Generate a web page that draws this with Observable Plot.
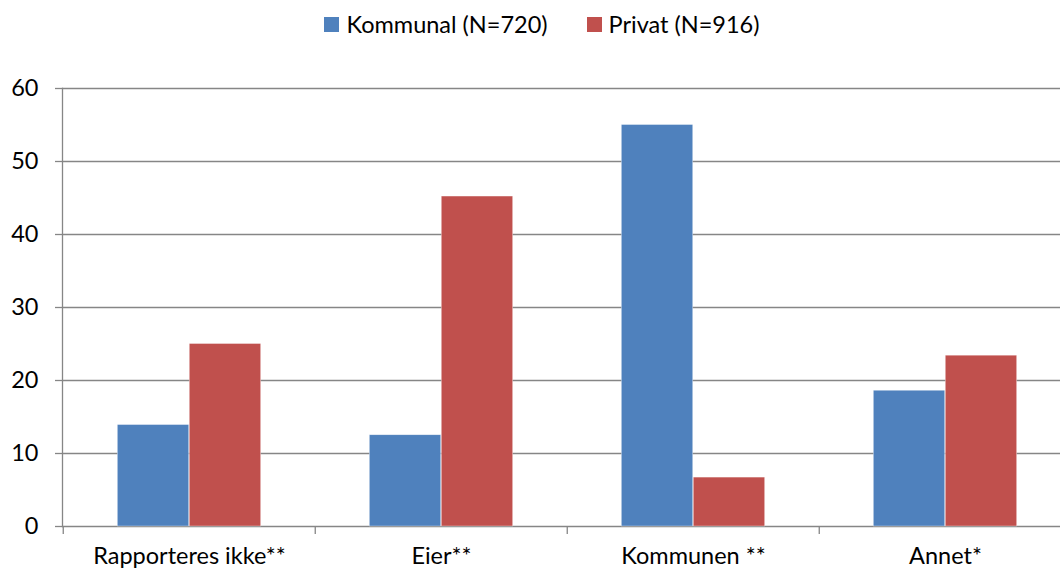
<!DOCTYPE html>
<html>
<head>
<meta charset="utf-8">
<script src="https://cdn.jsdelivr.net/npm/d3@7"></script>
<script src="https://cdn.jsdelivr.net/npm/@observablehq/plot@0.6"></script>
<style>
  html, body { margin: 0; padding: 0; background: white; overflow: hidden; width: 1060px; height: 574px; }
  #legend { height: 48px; display: flex; justify-content: center; align-items: center; gap: 39px; font-family: Lato, sans-serif; font-size: 23.5px; color: #000; padding-left: 24px; box-sizing: border-box; }
  #legend .item { display: flex; align-items: center; gap: 7px; }
  #legend .sw { width: 15px; height: 15px; display: inline-block; }
</style>
</head>
<body>
<div id="legend"></div>
<div id="chart"></div>
<script>
const categories = ["Rapporteres ikke**", "Eier**", "Kommunen **", "Annet*"];
const seriesNames = ["Kommunal (N=720)", "Privat (N=916)"];
const kommunal = [13.9, 12.5, 55.0, 18.6];
const privat = [25.0, 45.2, 6.7, 23.4];
const colors = ["#4F81BD", "#C0504D"];
const yTicks = [0, 10, 20, 30, 40, 50, 60];

const kData = categories.map((c, i) => ({cat: c, series: seriesNames[0], value: kommunal[i]}));
const pData = categories.map((c, i) => ({cat: c, series: seriesNames[1], value: privat[i]}));

const legend = document.getElementById("legend");
seriesNames.forEach((s, i) => {
  const it = document.createElement("div");
  it.className = "item";
  const sw = document.createElement("span");
  sw.className = "sw";
  sw.style.background = colors[i];
  const t = document.createElement("span");
  t.textContent = s;
  it.appendChild(sw); it.appendChild(t);
  legend.appendChild(it);
});

const W = 1080, ML = 62, MR = 8;
const bw = (W - ML - MR) / categories.length;   // band width
const barW = bw * 0.285;                          // single bar width
const outer = (bw - 2 * barW) / 2;

const chart = Plot.plot({
  width: W,
  height: 526,
  marginTop: 40,
  marginBottom: 48,
  marginLeft: ML,
  marginRight: MR,
  style: {fontFamily: "Lato, sans-serif", fontSize: "23.5px", color: "#000", overflow: "visible", maxWidth: "none"},
  x: {domain: categories, padding: 0, label: null},
  y: {domain: [0, 60], ticks: yTicks, label: null},
  color: {domain: seriesNames, range: colors},
  marks: [
    Plot.ruleY(yTicks, {stroke: "#868686", strokeWidth: 1.3}),
    Plot.barY(kData, {x: "cat", y: "value", fill: "series", insetLeft: outer, insetRight: outer + barW, stroke: "white", strokeWidth: 0.6, strokeOpacity: 0.6}),
    Plot.barY(pData, {x: "cat", y: "value", fill: "series", insetLeft: outer + barW, insetRight: outer, stroke: "white", strokeWidth: 0.6, strokeOpacity: 0.6}),
    Plot.axisY({ticks: yTicks, tickSize: 7, tickPadding: 17, stroke: "#868686", strokeWidth: 1.3, fontSize: 23.5, anchor: "left"}),
    Plot.frame({anchor: "left", stroke: "#868686", strokeWidth: 1.3}),
    Plot.axisX({tickSize: 0, tickPadding: 21, fontSize: 23.5, anchor: "bottom", label: null}),
    Plot.ruleX(categories, {x: d => d, dx: -bw / 2, y1: 0, y2: -1.1, stroke: "#868686", strokeWidth: 1.3}),
  ]
});
document.getElementById("chart").appendChild(chart);
</script>
</body>
</html>
